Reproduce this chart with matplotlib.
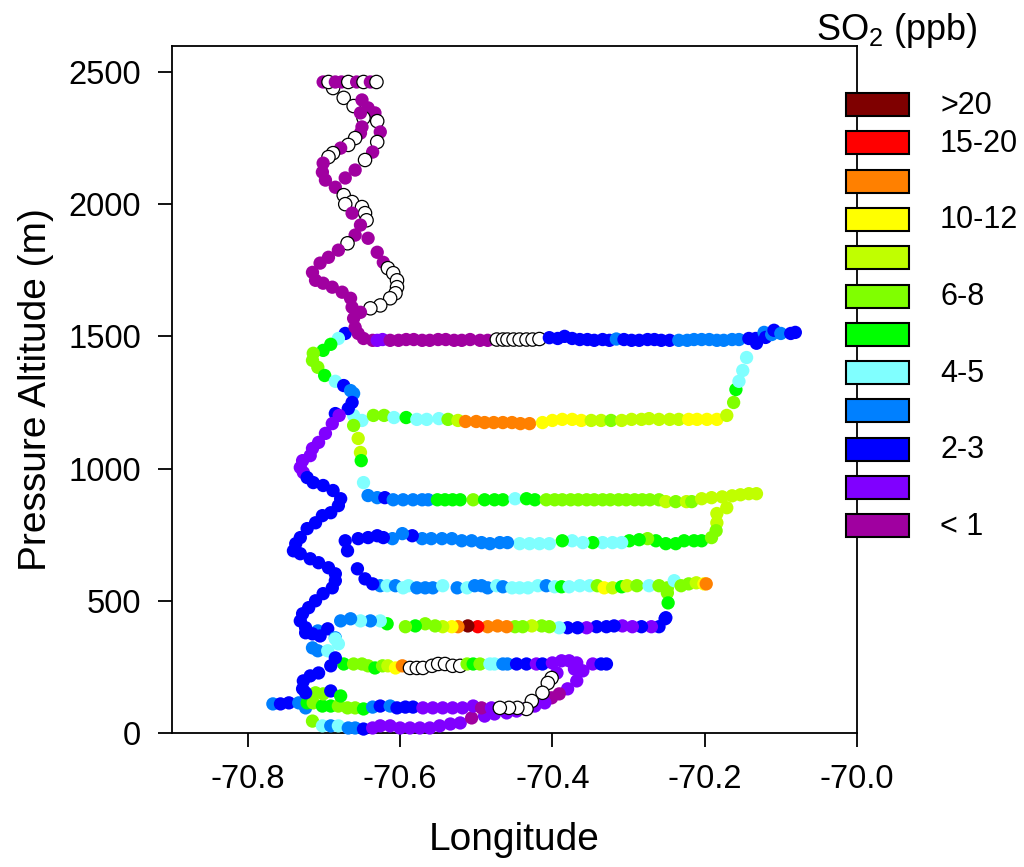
import matplotlib
matplotlib.use('Agg')
import matplotlib.pyplot as plt
from matplotlib.patches import Rectangle

plt.rcParams['font.family'] = ['Liberation Sans', 'DejaVu Sans']
plt.rcParams['mathtext.fontset'] = 'custom'
plt.rcParams['mathtext.rm'] = 'Liberation Sans'
plt.rcParams['mathtext.it'] = 'Liberation Sans:italic'
plt.rcParams['axes.unicode_minus'] = False

# ---- SO2 classes (legend, top to bottom); 'W' = no data (open circle) ----
class_codes = ['K', 'R', 'O', 'y', 'Y', 'L', 'G', 'C', 'B', 'D', 'p', 'm']
class_colors = ['#7f0000', '#ff0000', '#ff8000', '#ffff00', '#c0ff00', '#80ff00',
                '#00ff00', '#80ffff', '#0080ff', '#0000ff', '#8000ff', '#a000a0']
class_labels = ['>20', '15-20', '', '10-12', '', '6-8', '', '4-5', '', '2-3', '', '< 1']

# ---- flight track segments: longitude, pressure altitude (m), SO2 class ----
top_lon = [-70.701, -70.694, -70.685, -70.677, -70.668, -70.657, -70.648, -70.639, -70.631]
top_alt = [2462, 2462, 2462, 2462, 2462, 2462, 2462, 2462, 2462]
top_cat = "mWmmWmWmW"

helix_lon = [-70.688, -70.674, -70.661, -70.650, -70.642, -70.633, -70.648, -70.630, -70.652, -70.650,
             -70.626, -70.652, -70.659, -70.668, -70.630, -70.678, -70.636, -70.688, -70.694, -70.646,
             -70.701, -70.659, -70.702, -70.672, -70.698, -70.685, -70.674, -70.663, -70.672, -70.650,
             -70.646, -70.644, -70.663, -70.652, -70.659, -70.642, -70.669, -70.681, -70.694, -70.630,
             -70.622, -70.616, -70.609, -70.604, -70.604, -70.606, -70.613, -70.626, -70.639, -70.705,
             -70.715, -70.711, -70.701, -70.689, -70.676, -70.665, -70.663, -70.652, -70.661, -70.659,
             -70.655]
helix_alt = [2439, 2402, 2371, 2394, 2364, 2345, 2326, 2314, 2345, 2292,
             2273, 2269, 2250, 2224, 2235, 2212, 2197, 2193, 2178, 2167,
             2155, 2129, 2121, 2099, 2091, 2064, 2034, 2008, 2000, 1989,
             1966, 1939, 1966, 1921, 1883, 1871, 1852, 1826, 1799, 1818,
             1780, 1758, 1739, 1712, 1686, 1663, 1644, 1617, 1606, 1777,
             1742, 1712, 1701, 1686, 1667, 1644, 1610, 1591, 1568, 1534,
             1511]
helix_cat = "WWWmmmWWmmmmWWWmmWWWmmmmmmWWWWWWmmmmWmmmmWWWWWWWWmmmmmmmmmmmm"

left_lon = [-70.672, -70.681, -70.691, -70.701, -70.714, -70.715, -70.708, -70.699, -70.685, -70.674,
            -70.665, -70.661, -70.663, -70.668, -70.685, -70.680, -70.689, -70.698, -70.707, -70.715,
            -70.718, -70.728, -70.731, -70.727, -70.722, -70.714, -70.701, -70.688, -70.678, -70.681,
            -70.691, -70.702, -70.711, -70.722, -70.731, -70.737, -70.740, -70.731, -70.718, -70.707,
            -70.694, -70.685, -70.685, -70.689, -70.701, -70.711, -70.720, -70.728, -70.731, -70.724,
            -70.708, -70.695, -70.685, -70.724, -70.715, -70.705, -70.685, -70.681, -70.715, -70.708,
            -70.695, -70.685, -70.691, -70.707, -70.718, -70.727, -70.728, -70.724]
left_alt = [1511, 1492, 1470, 1447, 1436, 1409, 1383, 1352, 1330, 1314,
            1295, 1284, 1250, 1227, 1208, 1201, 1170, 1133, 1099, 1076,
            1049, 1030, 1004, 985, 966, 947, 936, 917, 886, 860,
            833, 822, 795, 773, 739, 716, 689, 678, 659, 644,
            625, 602, 576, 549, 527, 500, 474, 451, 424, 398,
            386, 394, 360, 379, 375, 367, 356, 337, 322, 311,
            311, 284, 254, 227, 216, 197, 167, 152]
left_cat = "DCGGLLLGCDBBDDD" "ppppppppp" "DDDDDDDDDDDDDDDDDDDDDDDDDD" "BDBDDDCCBBC" "DDDDDDD"

leg1500_lon = [-70.648, -70.636, -70.630, -70.623, -70.613, -70.602, -70.592, -70.582, -70.571, -70.561,
               -70.550, -70.540, -70.529, -70.519, -70.508, -70.495, -70.485, -70.473, -70.465, -70.459,
               -70.451, -70.443, -70.434, -70.426, -70.417, -70.404, -70.393, -70.384, -70.374, -70.364,
               -70.354, -70.345, -70.334, -70.325, -70.316, -70.306, -70.296, -70.286, -70.275, -70.266,
               -70.257, -70.246, -70.234, -70.223, -70.214, -70.204, -70.194, -70.184, -70.175, -70.164,
               -70.155, -70.142, -70.133, -70.132, -70.122, -70.120, -70.112, -70.109, -70.100, -70.087,
               -70.081]
leg1500_alt = [1492, 1485, 1485, 1488, 1485, 1485, 1488, 1488, 1485, 1485,
               1488, 1488, 1485, 1485, 1488, 1485, 1485, 1488, 1488, 1488,
               1488, 1488, 1488, 1488, 1490, 1495, 1492, 1500, 1492, 1488,
               1488, 1485, 1488, 1485, 1490, 1488, 1485, 1485, 1488, 1488,
               1485, 1485, 1485, 1485, 1488, 1488, 1488, 1485, 1485, 1488,
               1488, 1492, 1492, 1474, 1515, 1496, 1507, 1523, 1511, 1511,
               1515]
leg1500_cat = "mmppmmmmmmmmmmmmm" "WWWWWWWW" "DDDDDDDDD" "B" "DDDDDDD" "BBBBBBBBB" "DDDBDBDBDD"

leg1200_lon = [-70.635, -70.621, -70.608, -70.592, -70.578, -70.565, -70.549, -70.537, -70.524, -70.514,
               -70.500, -70.489, -70.477, -70.465, -70.453, -70.442, -70.430, -70.413, -70.400, -70.387,
               -70.374, -70.362, -70.349, -70.336, -70.323, -70.309, -70.296, -70.283, -70.273, -70.260,
               -70.246, -70.234, -70.221, -70.210, -70.197, -70.184, -70.171, -70.162, -70.159, -70.155,
               -70.150, -70.145]
leg1200_alt = [1201, 1201, 1193, 1193, 1186, 1186, 1189, 1186, 1182, 1178,
               1178, 1174, 1174, 1174, 1174, 1170, 1170, 1174, 1182, 1186,
               1186, 1182, 1182, 1182, 1182, 1182, 1186, 1186, 1189, 1186,
               1186, 1186, 1186, 1186, 1186, 1186, 1201, 1250, 1299, 1330,
               1371, 1420]
leg1200_cat = "LLCGCCCLY" "OOOOOOOO" "yyyyy" "YYLYYYYYYY" "yyyy" "YLGCCC"

mid_lon = [-70.650, -70.661, -70.661, -70.655, -70.652, -70.651, -70.648]
mid_alt = [1182, 1201, 1163, 1114, 1061, 1030, 947]
mid_cat = "CCLYYGC"

leg900_lon = [-70.642, -70.630, -70.620, -70.609, -70.596, -70.583, -70.571, -70.563, -70.551, -70.541,
              -70.531, -70.521, -70.504, -70.489, -70.476, -70.465, -70.449, -70.434, -70.423, -70.408,
              -70.397, -70.387, -70.376, -70.366, -70.355, -70.345, -70.334, -70.324, -70.313, -70.303,
              -70.292, -70.282, -70.272, -70.260, -70.251, -70.238, -70.224, -70.217, -70.204, -70.191,
              -70.177, -70.164, -70.153, -70.142, -70.132]
leg900_alt = [898, 890, 890, 882, 882, 882, 882, 882, 882, 882,
              882, 882, 882, 882, 882, 882, 886, 886, 882, 882,
              882, 882, 882, 882, 882, 882, 882, 882, 882, 882,
              882, 882, 882, 882, 875, 875, 875, 875, 886, 890,
              893, 897, 901, 905, 905]
leg900_cat = "BBDBBBBB" "GGGG" "L" "GGG" "C" "GG" "LLLLLLLLLLLLLLL" "YLYL" "YYYYYYY"

turn_lon = [-70.171, -70.184, -70.184, -70.185, -70.191]
turn_alt = [852, 830, 795, 765, 739]
turn_cat = "YYYLL"

leg700_lon = [-70.204, -70.214, -70.227, -70.238, -70.251, -70.264, -70.275, -70.286, -70.299, -70.309,
              -70.321, -70.334, -70.347, -70.360, -70.374, -70.387, -70.404, -70.417, -70.430, -70.443,
              -70.459, -70.469, -70.482, -70.493, -70.506, -70.519, -70.532, -70.545, -70.559, -70.571,
              -70.584, -70.597, -70.610, -70.622, -70.630, -70.642, -70.655, -70.672, -70.669,
              -70.656, -70.646, -70.636]
leg700_alt = [727, 727, 727, 716, 716, 727, 735, 731, 727, 720,
              720, 720, 720, 720, 727, 727, 716, 716, 716, 716,
              720, 720, 716, 720, 727, 727, 735, 735, 735, 735,
              746, 754, 735, 739, 746, 739, 735, 727, 689,
              621, 583, 564]
leg700_cat = "GGGGGGLGGCCCGCCGCCCCBBBBBBBBBBDBBDDDDDD" "DDD"

leg500_lon = [-70.626, -70.617, -70.606, -70.596, -70.589, -70.578, -70.567, -70.557, -70.544, -70.525,
              -70.512, -70.502, -70.493, -70.485, -70.473, -70.465, -70.453, -70.443, -70.432, -70.419,
              -70.408, -70.397, -70.388, -70.378, -70.364, -70.351, -70.341, -70.332, -70.321, -70.309,
              -70.302, -70.289, -70.273, -70.260, -70.249, -70.240, -70.231, -70.221, -70.211, -70.201,
              -70.198, -70.249, -70.248, -70.251]
leg500_alt = [557, 557, 557, 549, 557, 549, 549, 549, 557, 549,
              549, 557, 557, 549, 557, 553, 549, 549, 549, 557,
              557, 553, 553, 553, 557, 557, 557, 549, 549, 553,
              557, 557, 557, 557, 549, 576, 557, 564, 568, 564,
              564, 530, 492, 436]
leg500_cat = "BCBCCBBBC" "BCBBBCB" "CCCC" "BCG" "CCC" "LyYGYLCLLCLLYyO" "LGD"

leg400_lon = [-70.252, -70.260, -70.270, -70.283, -70.295, -70.308, -70.319, -70.329, -70.342, -70.355,
              -70.367, -70.380, -70.391, -70.404, -70.414, -70.427, -70.439, -70.449, -70.460, -70.472,
              -70.485, -70.498, -70.511, -70.524, -70.532, -70.544, -70.554, -70.567, -70.580, -70.593,
              -70.617, -70.626, -70.639, -70.652, -70.665, -70.678]
leg400_alt = [432, 402, 402, 402, 402, 405, 405, 402, 402, 398,
              398, 398, 398, 402, 405, 405, 402, 402, 402, 405,
              402, 402, 405, 402, 402, 402, 405, 413, 405, 402,
              413, 424, 424, 424, 432, 424]
leg400_cat = "DDpDppDDDpDDCLLYLLOOORKOyYLLGLGCBCBB"

leg250_lon = [-70.674, -70.661, -70.650, -70.642, -70.633, -70.623, -70.616, -70.606, -70.597, -70.587,
              -70.578, -70.570, -70.558, -70.550, -70.541, -70.531, -70.521, -70.512, -70.504, -70.495,
              -70.482, -70.476, -70.465, -70.459, -70.447, -70.434, -70.421, -70.413, -70.400, -70.388,
              -70.378, -70.368, -70.360, -70.347, -70.336, -70.329]
leg250_alt = [261, 261, 261, 254, 246, 254, 254, 246, 254, 246,
              246, 246, 254, 261, 261, 254, 254, 261, 261, 261,
              261, 261, 261, 261, 261, 261, 261, 261, 265, 273,
              273, 265, 235, 261, 261, 261]
leg250_cat = "GLLLGLYyOWWWWWWWWLGLCCBBDDpDppppppDD"

down_lon = [-70.371, -70.394, -70.368, -70.380, -70.391, -70.401, -70.410, -70.423, -70.436]
down_alt = [242, 227, 197, 167, 148, 133, 114, 102, 91]
down_cat = "ppppmmppp"

gap_lon = [-70.401, -70.406, -70.413, -70.427, -70.434, -70.446, -70.457, -70.469]
gap_alt = [208, 189, 152, 121, 91, 95, 95, 95]
gap_cat = "WWWWWWWW"

leg100_lon = [-70.767, -70.757, -70.746, -70.733, -70.724, -70.722, -70.714, -70.702, -70.691, -70.681,
              -70.669, -70.659, -70.648, -70.636, -70.626, -70.613, -70.604, -70.593, -70.583, -70.570,
              -70.557, -70.544, -70.531, -70.518, -70.504, -70.493, -70.480]
leg100_alt = [110, 110, 114, 114, 95, 114, 114, 102, 102, 102,
              95, 95, 91, 98, 102, 102, 95, 98, 98, 95,
              95, 95, 95, 95, 102, 95, 95]
leg100_cat = "BDDBBGLGGLLLGBDBDDDppppppmp"

leg150_lon = [-70.711, -70.701, -70.691, -70.678]
leg150_alt = [152, 148, 159, 140]
leg150_cat = "LLDG"

low_lon = [-70.715, -70.702, -70.691, -70.681, -70.668, -70.659, -70.648, -70.636, -70.626, -70.613,
           -70.600, -70.587, -70.574, -70.561, -70.548, -70.534, -70.521, -70.506, -70.489, -70.476,
           -70.460, -70.447]
low_alt = [45, 27, 27, 27, 19, 19, 15, 19, 27, 27,
           19, 19, 19, 19, 27, 34, 38, 57, 64, 72,
           76, 83]
low_cat = "LCBCBBD" "pppppppppp" "m" "pppp"

segments = [
    (low_lon, low_alt, low_cat),
    (leg100_lon, leg100_alt, leg100_cat),
    (leg150_lon, leg150_alt, leg150_cat),
    (down_lon, down_alt, down_cat),
    (gap_lon, gap_alt, gap_cat),
    (leg250_lon, leg250_alt, leg250_cat),
    (leg400_lon, leg400_alt, leg400_cat),
    (leg500_lon, leg500_alt, leg500_cat),
    (leg700_lon, leg700_alt, leg700_cat),
    (turn_lon, turn_alt, turn_cat),
    (leg900_lon, leg900_alt, leg900_cat),
    (mid_lon, mid_alt, mid_cat),
    (leg1200_lon, leg1200_alt, leg1200_cat),
    (left_lon, left_alt, left_cat),
    (leg1500_lon, leg1500_alt, leg1500_cat),
    (helix_lon, helix_alt, helix_cat),
    (top_lon, top_alt, top_cat),
]

# ---- figure ----
W, H = 1024, 867
fig = plt.figure(figsize=(W / 100, H / 100), dpi=100)
ax = fig.add_axes([171.6 / W, 1 - 733 / H, (857 - 171.6) / W, (733 - 45.5) / H])

cmap = dict(zip(class_codes, class_colors))
for lon, alt, cat in segments:
    n = min(len(lon), len(alt), len(cat))
    fc = [cmap.get(c, 'white') for c in cat[:n]]
    ec = ['black' if c == 'W' else 'none' for c in cat[:n]]
    ax.scatter(lon[:n], alt[:n], s=92, c=fc, edgecolors=ec, linewidths=0.9,
               zorder=3, clip_on=False)

ax.set_xlim(-70.9, -70.0)
ax.set_ylim(0, 2600)
ax.set_xticks([-70.8, -70.6, -70.4, -70.2, -70.0])
ax.set_xticklabels(['-70.8', '-70.6', '-70.4', '-70.2', '-70.0'])
ax.set_yticks([0, 500, 1000, 1500, 2000, 2500])
ax.tick_params(direction='out', length=10, width=1.3, labelsize=23.5, pad=12)
for s in ax.spines.values():
    s.set_linewidth(1.3)
ax.set_xlabel('Longitude', fontsize=28, labelpad=20)
ax.set_ylabel('Pressure Altitude (m)', fontsize=28, labelpad=10)

# ---- legend (colour key on the right) ----
box_x, box_w, box_h = 846, 63, 23
y0, dy = 104.6, 38.3
for i, (col, lab) in enumerate(zip(class_colors, class_labels)):
    yc = y0 + i * dy
    fig.add_artist(Rectangle((box_x / W, 1 - (yc + box_h / 2) / H), box_w / W, box_h / H,
                             transform=fig.transFigure, facecolor=col,
                             edgecolor='black', linewidth=1.5, zorder=5))
    if lab:
        fig.text(940 / W, 1 - (yc + 1) / H, lab, fontsize=22, va='center', ha='left')
fig.text(897 / W, 1 - 30 / H, r'SO$_2$ (ppb)', fontsize=26, va='center', ha='center')

fig.savefig('out.png', dpi=100)
